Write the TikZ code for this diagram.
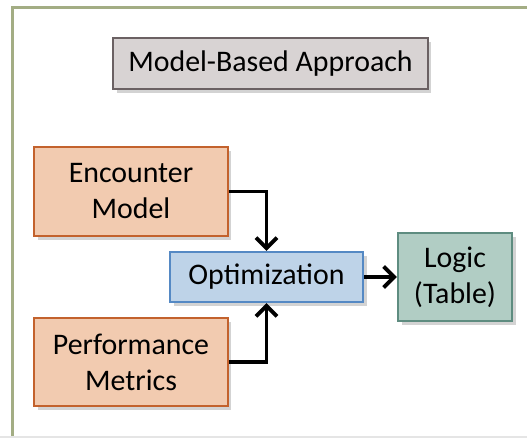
\documentclass[tikz,border=0pt]{standalone}
\usepackage{fontspec}
\setmainfont{Carlito}
\usetikzlibrary{positioning,shadows,arrows.meta}
\definecolor{framegreen}{HTML}{A3AD84}
\definecolor{greyfill}{HTML}{D8D3D3}
\definecolor{greydraw}{HTML}{6B6163}
\definecolor{orfill}{HTML}{F2CBB0}
\definecolor{ordraw}{HTML}{C3622D}
\definecolor{bluefill}{HTML}{BED3E8}
\definecolor{bluedraw}{HTML}{5589C4}
\definecolor{grfill}{HTML}{B1CDC4}
\definecolor{grdraw}{HTML}{5E8C80}

\begin{document}
\begin{tikzpicture}[x=0.02cm,y=-0.02cm,
    box/.style={draw,line width=1.2pt,align=center,inner sep=0pt,
        font=\fontsize{17}{20.5}\selectfont,
        drop shadow={shadow xshift=2pt,shadow yshift=-2pt,opacity=0.35}},
    flow/.style={line width=2.2pt,-{Straight Barb[length=6pt,width=12pt,line width=2.2pt]}}]
    \useasboundingbox (0,0) rectangle (527,438);
    \draw[framegreen,line width=2pt] (12.5,7.5) rectangle (545,460);
    \draw[black!10,line width=0.8pt] (0,437) -- (527,437);
    \node(mba)[box,fill=greyfill,draw=greydraw,minimum width=6.3cm,minimum height=1.02cm] at (270.5,63.5) {Model-Based Approach};
    \node(enc)[box,fill=orfill,draw=ordraw,minimum width=3.88cm,minimum height=1.78cm] at (131,191.5) {Encounter\\Model};
    \node(perf)[box,fill=orfill,draw=ordraw,minimum width=3.88cm,minimum height=1.76cm] at (131,362) {Performance\\Metrics};
    \node(opt)[box,fill=bluefill,draw=bluedraw,minimum width=3.86cm,minimum height=1cm] at (266.5,277) {Optimization};
    \node(logic)[box,fill=grfill,draw=grdraw,minimum width=2.28cm,minimum height=1.76cm] at (455,277) {Logic\\(Table)};
    \draw[flow] (enc.east) -| (opt.north);
    \draw[flow] (perf.east) -| (opt.south);
    \draw[flow] (opt) -- (logic);
\end{tikzpicture}
\end{document}
